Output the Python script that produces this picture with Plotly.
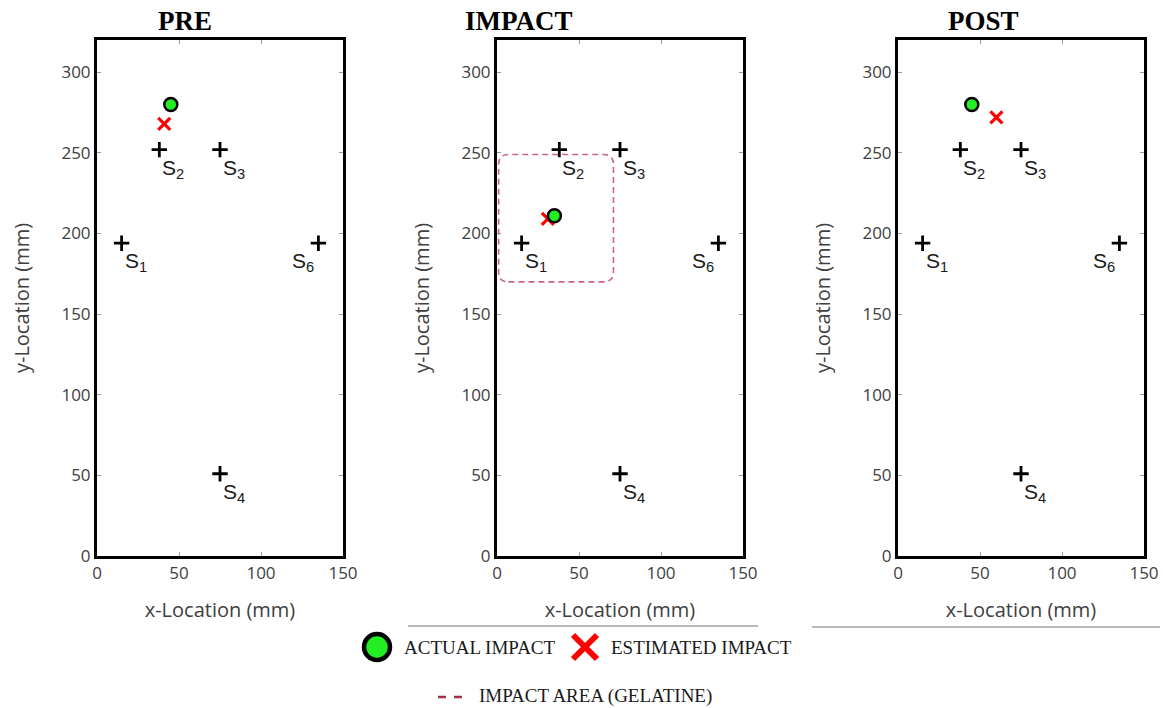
import plotly.graph_objects as go

# ---------------- data ----------------
panels = ["PRE", "IMPACT", "POST"]
sensor_names = ["S<sub>1</sub>", "S<sub>2</sub>", "S<sub>3</sub>", "S<sub>4</sub>", "S<sub>6</sub>"]
sensor_x = [15, 38, 75, 75, 135]
sensor_y = [194, 252, 252, 51, 194]
label_side = ["right", "right", "right", "right", "left"]

actual_x = [45, 35, 45]
actual_y = [280, 211, 280]
estimated_x = [41, 31, 60]
estimated_y = [268, 209, 272]

gel_x = [1, 71]        # impact area (gelatine) on IMPACT panel
gel_y = [170, 249]
gel_r = 6

x_ticks = [0, 50, 100, 150]
y_ticks = [0, 50, 100, 150, 200, 250, 300]
x_range = [0, 150]
y_range = [0, 320]

W, H = 1164, 708

# ---------------- layout geometry ----------------
x_domains = [[97 / W, 343 / W], [497 / W, 743 / W], [898 / W, 1144 / W]]
y_domain = [1 - 556 / H, 1 - 40 / H]
title_x = [185 / W, 519 / W, 983 / W]

tick_font = dict(family="Open Sans", size=17, color="#404040")
title_font = dict(family="Open Sans", size=20, color="#404040")

fig = go.Figure()
layout = dict(
    width=W, height=H, margin=dict(l=0, r=0, t=0, b=0, autoexpand=False),
    paper_bgcolor="white", plot_bgcolor="rgba(0,0,0,0)", showlegend=False,
)

annotations = []
shapes = []

for i, name in enumerate(panels):
    n = "" if i == 0 else str(i + 1)
    xa, ya = "x" + n, "y" + n
    axcommon = dict(
        showline=True, mirror="ticks", linecolor="black", linewidth=3,
        ticks="inside", ticklen=4, tickwidth=1, tickcolor="#999999",
        showgrid=False, zeroline=False, tickfont=tick_font, automargin=False,
    )
    layout["xaxis" + n] = dict(
        axcommon, domain=x_domains[i], range=x_range, tickvals=x_ticks,
        anchor=ya, title=dict(text="x-Location (mm)", font=title_font, standoff=20),
    )
    layout["yaxis" + n] = dict(
        axcommon, domain=y_domain, range=y_range, tickvals=y_ticks,
        anchor=xa, title=dict(text="y-Location (mm)", font=title_font, standoff=27),
    )

    # sensors
    fig.add_trace(go.Scatter(
        x=sensor_x, y=sensor_y, mode="markers", xaxis=xa, yaxis=ya,
        marker=dict(symbol="cross-thin", size=11, line=dict(width=2.8, color="black")),
        hoverinfo="skip",
    ))
    for sx, sy, sn, side in zip(sensor_x, sensor_y, sensor_names, label_side):
        annotations.append(dict(
            x=sx, y=sy, xref=xa, yref=ya, text=sn, showarrow=False,
            xanchor="left" if side == "right" else "right", yanchor="top",
            xshift=1 if side == "right" else -2, yshift=-4,
            font=dict(family="Liberation Sans", size=21, color="#1a1a1a"),
        ))

    # estimated impact
    fig.add_trace(go.Scatter(
        x=[estimated_x[i]], y=[estimated_y[i]], mode="markers", xaxis=xa, yaxis=ya,
        marker=dict(symbol="x-thin", size=12, line=dict(width=3.2, color="#ff0000")),
    ))
    # actual impact
    fig.add_trace(go.Scatter(
        x=[actual_x[i]], y=[actual_y[i]], mode="markers", xaxis=xa, yaxis=ya,
        marker=dict(symbol="circle", size=13, color="#22ee22", line=dict(width=2.5, color="black")),
    ))

    annotations.append(dict(
        x=title_x[i], y=1 - 21 / H, xref="paper", yref="paper", text="<b>%s</b>" % name,
        showarrow=False, xanchor="center", yanchor="middle",
        font=dict(family="Liberation Serif", size=27, color="black"),
    ))

# gelatine impact area (rounded dashed rectangle) on IMPACT panel
x0, x1 = gel_x
y0, y1 = gel_y
r = gel_r
path = (f"M {x0 + r},{y0} L {x1 - r},{y0} Q {x1},{y0} {x1},{y0 + r} "
        f"L {x1},{y1 - r} Q {x1},{y1} {x1 - r},{y1} L {x0 + r},{y1} "
        f"Q {x0},{y1} {x0},{y1 - r} L {x0},{y0 + r} Q {x0},{y0} {x0 + r},{y0} Z")
shapes.append(dict(type="path", path=path, xref="x2", yref="y2", layer="below",
                   line=dict(color="#c9677c", width=1.6, dash="6px,4px")))

# grey separator lines under x-axis titles
shapes.append(dict(type="line", xref="paper", yref="paper", x0=408 / W, x1=758 / W,
                   y0=1 - 626 / H, y1=1 - 626 / H, line=dict(color="#a0a0a0", width=1.3)))
shapes.append(dict(type="line", xref="paper", yref="paper", x0=812 / W, x1=1160 / W,
                   y0=1 - 627 / H, y1=1 - 627 / H, line=dict(color="#a0a0a0", width=1.3)))

# ---------------- legend (overlay axis in pixel units, bottom strip) ----------------
layout["xaxis4"] = dict(domain=[0, 1], range=[0, W], visible=False, anchor="y4", fixedrange=True)
layout["yaxis4"] = dict(domain=[0, 1 - 630 / H], range=[H, 630], visible=False, anchor="x4",
                        fixedrange=True)

fig.add_trace(go.Scatter(
    x=[377], y=[647], mode="markers", xaxis="x4", yaxis="y4", cliponaxis=False,
    marker=dict(symbol="circle", size=26, color="#22ee22", line=dict(width=4.5, color="black")),
    hoverinfo="skip",
))
fig.add_trace(go.Scatter(
    x=[585], y=[647], mode="markers", xaxis="x4", yaxis="y4", cliponaxis=False,
    marker=dict(symbol="x-thin", size=24, line=dict(width=6, color="#ff0000")),
    hoverinfo="skip",
))
fig.add_trace(go.Scatter(
    x=[438, 465], y=[697, 697], mode="lines", xaxis="x4", yaxis="y4",
    line=dict(color="#a3303f", width=2.5, dash="8px,8px"), hoverinfo="skip",
))
leg_font = dict(family="Liberation Serif", size=19, color="#1a1a1a")
annotations += [
    dict(x=402 / W, y=1 - 647 / H, xref="paper", yref="paper", text="ACTUAL IMPACT",
         showarrow=False, xanchor="left", yanchor="middle", font=leg_font),
    dict(x=609 / W, y=1 - 647 / H, xref="paper", yref="paper", text="ESTIMATED IMPACT",
         showarrow=False, xanchor="left", yanchor="middle", font=leg_font),
    dict(x=477 / W, y=1 - 696 / H, xref="paper", yref="paper", text="IMPACT AREA (GELATINE)",
         showarrow=False, xanchor="left", yanchor="middle", font=leg_font),
]

layout["annotations"] = annotations
layout["shapes"] = shapes
fig.update_layout(**layout)
fig.write_html(
    "out.html",
    config={"displayModeBar": False},
    post_script="document.body.style.margin='0px';document.body.style.overflow='hidden';",
)
